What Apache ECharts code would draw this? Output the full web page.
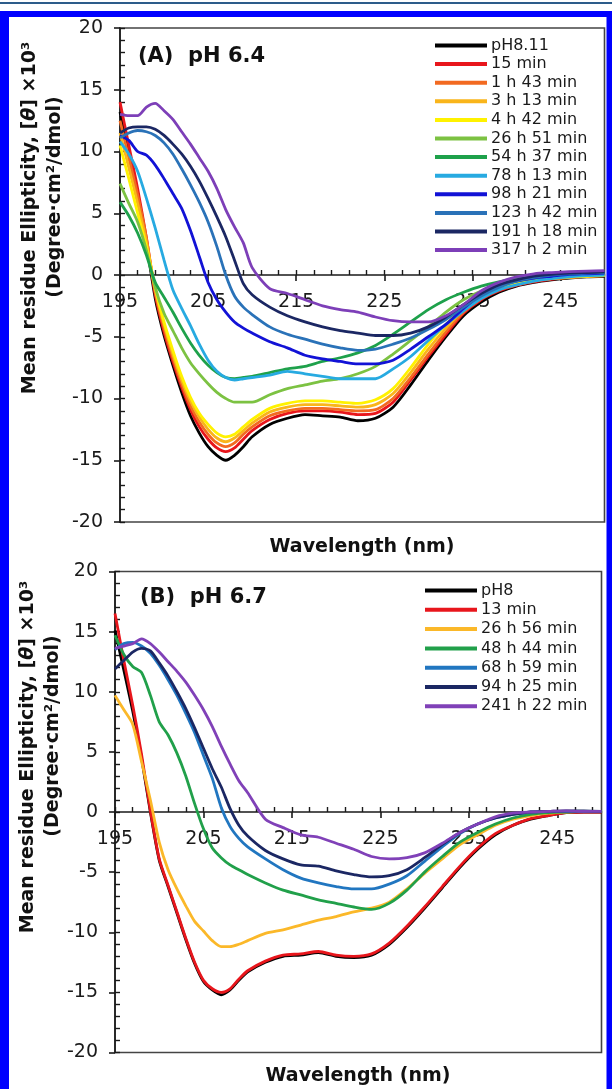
<!DOCTYPE html>
<html>
<head>
<meta charset="utf-8">
<title>CD spectra at pH 6.4 and pH 6.7</title>
<script src="https://cdn.jsdelivr.net/npm/echarts@6/dist/echarts.min.js"></script>
<style>
  html, body { margin: 0; padding: 0; background: #ffffff; }
  #chart { width: 612px; height: 1089px; }
</style>
</head>
<body>
<div id="chart"></div>
<script>
// Wavelength grid (nm) shared by every spectrum
const wavelength = [195,196,197,198,199,200,201,202,203,204,205,206,207,208,209,210,
  212,214,216,218,220,222,224,226,228,230,232,234,236,238,240,242,244,246,248,250];

// Axis tick values
const xLabelTicks = [195,205,215,225,235,245];
const xMinorTicks = [195,197,199,201,203,205,207,209,211,213,215,217,219,221,223,225,
  227,229,231,233,235,237,239,241,243,245,247,249];

// Panel A: pH 6.4 time course, mean residue ellipticity (x10^3 deg cm2 dmol-1)
const namesA = ['pH8.11','15 min','1 h 43 min','3 h 13 min','4 h 42 min','26 h 51 min',
  '54 h 37 min','78 h 13 min','98 h 21 min','123 h 42 min','191 h 18 min','317 h 2 min'];
const colorsA = ['#000000','#e8161c','#f26a21','#f9b51b','#fff200','#7cc242',
  '#1ea14b','#27aae1','#1212d6','#2a72b8','#1b2763','#7d3fb8'];
const a_pH811 = [13.2,9.8,6.5,2.5,-1.9,-4.9,-7.3,-9.5,-11.4,-12.8,-13.9,-14.6,-15.0,-14.6,-13.9,-13.1,
  -12.1,-11.6,-11.3,-11.4,-11.5,-11.8,-11.6,-10.7,-8.9,-6.9,-5.0,-3.3,-2.2,-1.4,-0.9,-0.6,-0.4,-0.25,-0.15,-0.1];
const a_15m = [14.0,10.5,7.0,3.0,-1.6,-4.6,-7.0,-9.1,-10.9,-12.3,-13.3,-14.0,-14.3,-14.0,-13.3,-12.6,
  -11.7,-11.2,-11.0,-11.0,-11.1,-11.3,-11.2,-10.3,-8.5,-6.6,-4.8,-3.1,-2.0,-1.3,-0.85,-0.55,-0.35,-0.2,-0.1,-0.05];
const a_1h43 = [12.5,9.5,6.5,3.0,-1.4,-4.3,-6.7,-8.8,-10.6,-11.9,-12.9,-13.6,-13.9,-13.6,-12.9,-12.3,
  -11.4,-11.0,-10.8,-10.8,-10.9,-11.0,-10.9,-10.0,-8.3,-6.4,-4.6,-3.0,-1.9,-1.2,-0.8,-0.5,-0.3,-0.2,-0.1,-0.05];
const a_3h13 = [11.5,8.7,5.8,2.7,-1.2,-4.0,-6.4,-8.5,-10.2,-11.5,-12.5,-13.2,-13.5,-13.2,-12.6,-12.0,
  -11.1,-10.7,-10.5,-10.5,-10.6,-10.7,-10.5,-9.6,-7.9,-6.0,-4.3,-2.8,-1.8,-1.1,-0.7,-0.45,-0.3,-0.2,-0.1,-0.05];
const a_4h42 = [10.5,7.8,5.0,2.3,-1.0,-3.8,-6.1,-8.2,-9.9,-11.2,-12.1,-12.8,-13.1,-12.9,-12.3,-11.7,
  -10.8,-10.4,-10.2,-10.2,-10.3,-10.4,-10.1,-9.2,-7.5,-5.6,-4.0,-2.6,-1.6,-1.0,-0.65,-0.4,-0.25,-0.15,-0.1,-0.05];
const a_26h51 = [7.4,5.8,4.3,2.0,-1.0,-3.1,-4.5,-5.9,-7.1,-8.0,-8.8,-9.5,-10.0,-10.3,-10.3,-10.3,
  -9.7,-9.2,-8.9,-8.6,-8.4,-8.0,-7.4,-6.4,-5.3,-4.2,-3.0,-2.0,-1.3,-0.8,-0.5,-0.3,-0.15,-0.05,0.0,0.05];
const a_54h37 = [5.9,4.8,3.4,1.6,-0.6,-1.8,-3.0,-4.3,-5.5,-6.5,-7.3,-7.9,-8.3,-8.4,-8.3,-8.2,
  -7.9,-7.6,-7.4,-7.0,-6.7,-6.3,-5.7,-4.8,-3.8,-2.8,-2.0,-1.4,-0.9,-0.55,-0.3,-0.15,-0.05,0.05,0.1,0.15];
const a_78h13 = [10.8,9.8,8.4,6.2,3.8,1.2,-1.2,-2.7,-4.1,-5.6,-6.9,-7.8,-8.3,-8.5,-8.4,-8.3,
  -8.1,-7.8,-8.0,-8.2,-8.4,-8.4,-8.4,-7.6,-6.6,-5.3,-4.0,-2.9,-1.9,-1.2,-0.8,-0.5,-0.3,-0.15,-0.05,0.0];
const a_98h21 = [11.3,10.9,10.0,9.7,8.9,7.8,6.6,5.4,3.6,1.5,-0.6,-2.0,-3.0,-3.8,-4.3,-4.7,
  -5.4,-5.9,-6.5,-6.8,-7.0,-7.2,-7.2,-6.9,-6.0,-5.0,-4.0,-2.7,-1.6,-0.9,-0.5,-0.25,-0.1,0.05,0.1,0.15];
const a_123h42 = [11.1,11.5,11.7,11.6,11.3,10.7,9.8,8.6,7.3,5.9,4.3,2.3,0.0,-1.7,-2.6,-3.2,
  -4.2,-4.8,-5.2,-5.6,-5.9,-6.1,-6.0,-5.6,-5.1,-4.4,-3.6,-2.6,-1.7,-1.0,-0.5,-0.2,0.0,0.1,0.15,0.2];
const a_191h18 = [11.5,11.9,12.0,12.0,11.8,11.3,10.6,9.8,8.8,7.6,6.2,4.7,3.1,1.2,-0.7,-1.6,
  -2.6,-3.3,-3.8,-4.2,-4.5,-4.7,-4.9,-4.9,-4.7,-4.2,-3.4,-2.4,-1.5,-0.8,-0.4,-0.1,0.05,0.15,0.2,0.25];
const a_317h2 = [13.0,12.9,12.9,13.6,13.9,13.3,12.6,11.6,10.6,9.5,8.4,7.0,5.3,3.9,2.6,0.6,
  -1.1,-1.5,-2.0,-2.5,-2.8,-3.0,-3.4,-3.7,-3.8,-3.8,-3.3,-2.4,-1.3,-0.6,-0.15,0.1,0.2,0.27,0.32,0.35];
const seriesA = [a_pH811,a_15m,a_1h43,a_3h13,a_4h42,a_26h51,a_54h37,a_78h13,a_98h21,a_123h42,a_191h18,a_317h2];

// Panel B: pH 6.7 time course
const namesB = ['pH8','13 min','26 h 56 min','48 h 44 min','68 h 59 min','94 h 25 min','241 h 22 min'];
const colorsB = ['#000000','#e8161c','#fbb829','#21a04a','#2176c0','#1b2763','#8041b8'];
const b_pH8 = [15.1,11.8,8.4,4.5,0.0,-4.0,-6.2,-8.4,-10.6,-12.6,-14.1,-14.8,-15.2,-14.8,-14.0,-13.3,
  -12.5,-12.0,-11.9,-11.7,-12.0,-12.1,-11.9,-11.0,-9.6,-8.0,-6.3,-4.6,-3.1,-1.9,-1.1,-0.6,-0.3,-0.05,0.0,0.0];
const b_13m = [16.5,12.6,8.9,4.8,0.1,-3.9,-6.1,-8.3,-10.5,-12.5,-14.0,-14.7,-15.0,-14.7,-13.9,-13.2,
  -12.4,-11.9,-11.8,-11.6,-11.9,-12.0,-11.8,-10.9,-9.5,-7.9,-6.2,-4.5,-3.0,-1.8,-1.1,-0.55,-0.3,-0.05,0.0,0.0];
const b_26h56 = [9.7,8.5,7.3,4.2,1.0,-2.5,-4.8,-6.4,-7.8,-9.1,-9.9,-10.7,-11.2,-11.2,-11.0,-10.7,
  -10.1,-9.8,-9.4,-9.0,-8.7,-8.3,-8.0,-7.5,-6.4,-5.1,-3.9,-2.7,-1.9,-1.1,-0.6,-0.3,-0.1,0.0,0.05,0.05];
const b_48h44 = [14.7,13.1,12.1,11.6,9.7,7.5,6.4,4.9,3.0,0.7,-1.4,-3.0,-3.8,-4.4,-4.8,-5.2,
  -5.9,-6.5,-6.9,-7.3,-7.6,-7.9,-8.1,-7.6,-6.5,-5.0,-3.7,-2.5,-1.7,-1.0,-0.5,-0.2,-0.05,0.0,0.05,0.05];
const b_68h59 = [13.5,14.0,14.1,13.8,13.2,12.2,11.0,9.7,8.2,6.6,4.7,2.8,0.4,-1.2,-2.2,-2.9,
  -3.9,-4.8,-5.5,-5.9,-6.2,-6.4,-6.4,-6.0,-5.3,-4.1,-2.9,-1.8,-1.0,-0.5,-0.2,0.0,0.05,0.05,0.05,0.05];
const b_94h25 = [11.9,12.6,13.3,13.6,13.4,12.4,11.3,10.0,8.6,7.0,5.3,3.6,2.1,0.3,-1.1,-2.0,
  -3.2,-3.9,-4.4,-4.5,-4.9,-5.2,-5.4,-5.3,-4.8,-3.8,-2.7,-1.7,-1.0,-0.5,-0.2,0.0,0.05,0.1,0.1,0.05];
const b_241h22 = [13.6,13.8,14.0,14.4,14.0,13.3,12.5,11.7,10.8,9.7,8.5,7.1,5.5,4.0,2.6,1.6,
  -0.6,-1.3,-1.9,-2.1,-2.6,-3.1,-3.7,-3.9,-3.8,-3.4,-2.6,-1.7,-1.0,-0.4,-0.1,0.0,0.05,0.1,0.05,0.05];
const seriesB = [b_pH8,b_13m,b_26h56,b_48h44,b_68h59,b_94h25,b_241h22];

const FONT = 'DejaVu Sans';
const INK = '#1a1a1a';

// Plot boxes (pixels); the y range is symmetric, so the zero line sits at half height
const boxA = { left: 120, top: 28, width: 484.5, height: 494 };
const boxB = { left: 115, top: 571.5, width: 486.5, height: 481 };

function lineSeries(name, values, color, axisIdx) {
  return {
    type: 'line', name: name,
    xAxisIndex: axisIdx, yAxisIndex: axisIdx,
    data: wavelength.map((w, i) => [w, values[i]]),
    symbol: 'none', showSymbol: false, smooth: 0.25,
    lineStyle: { color: color, width: 2.8 },
    itemStyle: { color: color },
    emphasis: { disabled: true }
  };
}

// Main x axis runs along y = 0 with labels and outward major ticks;
// the companion axis adds the inward tick marks every 2 nm.
function xAxes(gridIndex, box) {
  const shift = -box.height / 2;
  return [
    {
      type: 'value', gridIndex: gridIndex, min: 195, max: 250, position: 'bottom', offset: shift,
      axisLine: { show: true, onZero: false, lineStyle: { color: INK, width: 1.6 } },
      axisTick: { show: true, customValues: xLabelTicks, inside: false, length: 6, lineStyle: { color: INK, width: 1.6 } },
      axisLabel: { customValues: xLabelTicks, margin: 18, color: INK, fontFamily: FONT, fontSize: 19 },
      splitLine: { show: false }
    },
    {
      type: 'value', gridIndex: gridIndex, min: 195, max: 250, position: 'bottom', offset: shift,
      axisLine: { show: false, onZero: false },
      axisTick: { show: true, customValues: xMinorTicks, inside: true, length: 5, lineStyle: { color: INK, width: 1.4 } },
      axisLabel: { show: false },
      splitLine: { show: false }
    }
  ];
}

function yAxes(gridIndex) {
  return [
    {
      type: 'value', gridIndex: gridIndex, min: -20, max: 20, interval: 5, position: 'left',
      axisLine: { show: true, onZero: false, lineStyle: { color: INK, width: 1.6 } },
      axisTick: { show: true, inside: false, length: 6, lineStyle: { color: INK, width: 1.6 } },
      axisLabel: { margin: 17, color: INK, fontFamily: FONT, fontSize: 19 },
      splitLine: { show: false }
    },
    {
      type: 'value', gridIndex: gridIndex, min: -20, max: 20, interval: 1, position: 'left',
      axisLine: { show: false, onZero: false },
      axisTick: { show: true, inside: true, length: 5, lineStyle: { color: INK, width: 1.4 } },
      axisLabel: { show: false },
      splitLine: { show: false }
    }
  ];
}

function legendBox(names, left, top, gap) {
  return {
    orient: 'vertical', left: left, top: top, data: names,
    icon: 'rect', itemWidth: 52, itemHeight: 4, itemGap: gap,
    selectedMode: false, padding: 0,
    textStyle: { fontFamily: FONT, fontSize: 16, color: INK, lineHeight: 16, padding: [0, 0, 0, -1] }
  };
}

const TITLE_SIZE = 19;
const yTitleRich = {
  it: { fontStyle: 'italic', fontWeight: 'bold', fontSize: TITLE_SIZE, fontFamily: FONT, fill: '#111' }
};

function yTitle(cx, cy1, cy2) {
  return [
    {
      type: 'text', x: cx, y: cy1, rotation: Math.PI / 2,
      style: {
        text: 'Mean residue Ellipticity, [{it|θ}] ×10³', rich: yTitleRich,
        fontFamily: FONT, fontWeight: 'bold', fontSize: TITLE_SIZE, fill: '#111',
        align: 'center', verticalAlign: 'middle'
      }
    },
    {
      type: 'text', x: cx + 25, y: cy2, rotation: Math.PI / 2,
      style: {
        text: '(Degree·cm²/dmol)', fontFamily: FONT, fontWeight: 'bold', fontSize: TITLE_SIZE, fill: '#111',
        align: 'center', verticalAlign: 'middle'
      }
    }
  ];
}

function plainText(x, y, text, size, align) {
  return {
    type: 'text', x: x, y: y,
    style: { text: text, fontFamily: FONT, fontWeight: 'bold', fontSize: size, fill: '#111',
      align: align, verticalAlign: 'middle' }
  };
}

function band(x, y, w, h, color) {
  return { type: 'rect', shape: { x: x, y: y, width: w, height: h }, style: { fill: color } };
}

const chart = echarts.init(document.getElementById('chart'), null, { renderer: 'canvas', width: 612, height: 1089 });

const gridStyle = { show: true, borderColor: '#444', borderWidth: 1.6, backgroundColor: 'transparent' };

const option = {
  animation: false,
  backgroundColor: '#ffffff',
  grid: [
    Object.assign({}, boxA, gridStyle),
    Object.assign({}, boxB, gridStyle)
  ],
  xAxis: [].concat(xAxes(0, boxA), xAxes(1, boxB)),
  yAxis: [].concat(yAxes(0), yAxes(1)),
  legend: [
    legendBox(namesA, 435, 37.5, 2.6),
    legendBox(namesB, 425, 582.5, 3.3)
  ],
  series: [].concat(
    seriesA.map((v, i) => lineSeries(namesA[i], v, colorsA[i], 0)),
    seriesB.map((v, i) => lineSeries(namesB[i], v, colorsB[i], 2))
  ),
  graphic: [].concat(
    [
      // page rule and blue frame
      band(0, 2, 612, 2, '#2d5c8a'),
      band(0, 11, 612, 6, '#0000ff'),
      band(0, 11, 9, 1078, '#0000ff'),
      band(606.5, 11, 5.5, 1078, '#0000ff'),
      plainText(138, 57, '(A)  pH 6.4', 21, 'left'),
      plainText(140, 598, '(B)  pH 6.7', 21, 'left'),
      plainText(362, 547, 'Wavelength (nm)', 19, 'center'),
      plainText(358, 1076, 'Wavelength (nm)', 19, 'center')
    ],
    yTitle(30, 218, 197),
    yTitle(28, 757, 736)
  )
};

chart.setOption(option);
</script>
</body>
</html>
